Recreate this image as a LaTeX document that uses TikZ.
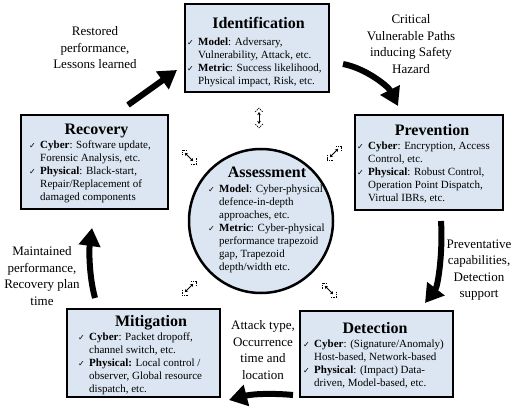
\documentclass[tikz,border=0pt]{standalone}
\usepackage{fontspec}
\setmainfont{Liberation Serif}
\newfontfamily\checkfont{DejaVu Sans}
\usetikzlibrary{arrows.meta}

\definecolor{boxfill}{RGB}{220,230,242}

% check mark bullet and hanging indent for the panel lists
\newcommand\ck{\makebox[11pt][l]{\checkfont\fontsize{8}{8}\selectfont ✓}}
\newcommand\ind{\hspace*{11pt}}
\newcommand\plist[1]{\parbox[t]{170pt}{\raggedright #1}}

\tikzset{
  panel/.style={draw=black, line width=2.5pt, fill=boxfill, inner sep=0pt},
  paneltitle/.style={font=\fontsize{16}{18}\selectfont\bfseries, inner sep=0pt, anchor=base},
  panelbody/.style={font=\fontsize{11}{13}\selectfont, inner sep=0pt, anchor=base west},
  flowlabel/.style={font=\fontsize{13}{16.5}\selectfont, align=center, inner sep=0pt},
  bigarrow/.style={line width=6pt, -{Triangle[length=18pt,width=21pt]}},
  resize/.pic={
    \draw[line width=0.75pt, {Stealth[length=3pt,width=3.6pt]}-{Stealth[length=3pt,width=3.6pt]}]
      (-4.2,-4.2) -- (4.2,4.2);
    \draw[line width=0.65pt, dash pattern=on 1.4pt off 0.9pt]
      (-7,-1.5) -- (-7,-7) -- (-1.5,-7)
      (7,1.5) -- (7,7) -- (1.5,7);
  }
}

\begin{document}
\begin{tikzpicture}[x=1pt, y=-1pt]
\useasboundingbox (0,0) rectangle (526,419);

% ---- central assessment disc ----
\node[panel, circle, minimum size=144pt] (assess) at (261,221) {};
\node[paneltitle] (assessT) at (267,178) {Assessment};
\node[panelbody] (assessB) at (208,193) {\plist{%
  \ck\textbf{Model}: Cyber-physical\\
  \ind defence-in-depth\\
  \ind approaches, etc.\\
  \ck\textbf{Metric}: Cyber-physical\\
  \ind performance trapezoid\\
  \ind gap, Trapezoid\\
  \ind depth/width etc.}};

% ---- identification ----
\node[panel, minimum width=144pt, minimum height=88pt] (ident) at (257,48) {};
\node[paneltitle] (identT) at (258.5,28.5) {Identification};
\node[panelbody] (identB) at (187,45.5) {\plist{%
  \ck\textbf{Model}: Adversary,\\
  \ind Vulnerability, Attack, etc.\\
  \ck\textbf{Metric}: Success likelihood,\\
  \ind Physical impact, Risk, etc.}};

% ---- prevention ----
\node[panel, minimum width=148pt, minimum height=95pt] (prev) at (429,162.5) {};
\node[paneltitle] (prevT) at (432,136) {Prevention};
\node[panelbody] (prevB) at (357,150) {\plist{%
  \ck\textbf{Cyber}: Encryption, Access\\
  \ind Control, etc.\\
  \ck\textbf{Physical}: Robust Control,\\
  \ind Operation Point Dispatch,\\
  \ind Virtual IBRs, etc.}};

% ---- detection ----
\node[panel, minimum width=153pt, minimum height=86pt] (detect) at (376.5,354) {};
\node[paneltitle] (detectT) at (375,333) {Detection};
\node[panelbody] (detectB) at (303,347) {\plist{%
  \ck\textbf{Cyber}: (Signature/Anomaly)\\
  \ind Host-based, Network-based\\
  \ck\textbf{Physical}: (Impact) Data-\\
  \ind driven, Model-based, etc.}};

% ---- mitigation ----
\node[panel, minimum width=153pt, minimum height=88pt] (mitig) at (143.5,353) {};
\node[paneltitle] (mitigT) at (151,326.5) {Mitigation};
\node[panelbody] (mitigB) at (78,340) {\plist{%
  \ck\textbf{Cyber}: Packet dropoff,\\
  \ind channel switch, etc.\\
  \ck\textbf{Physical:} Local control /\\
  \ind observer, Global resource\\
  \ind dispatch, etc.}};

% ---- recovery ----
\node[panel, minimum width=147pt, minimum height=94pt] (recov) at (94.5,162) {};
\node[paneltitle] (recovT) at (96.5,135) {Recovery};
\node[panelbody] (recovB) at (29,149) {\plist{%
  \ck\textbf{Cyber}: Software update,\\
  \ind Forensic Analysis, etc.\\
  \ck\textbf{Physical}: Black-start,\\
  \ind Repair/Replacement of\\
  \ind damaged components}};

% ---- cycle labels ----
\node[flowlabel] (lblRestore) at (95,48) {Restored\\performance,\\Lessons learned};
\node[flowlabel] (lblCritical) at (411,44) {Critical\\Vulnerable Paths\\inducing Safety\\Hazard};
\node[flowlabel] (lblPrevent) at (479,270) {Preventative\\capabilities,\\Detection\\support};
\node[flowlabel] (lblAttack) at (263,350) {Attack type,\\Occurrence\\time and\\location};
\node[flowlabel] (lblMaintain) at (42,276) {Maintained\\performance,\\Recovery plan\\time};

% ---- cycle arrows ----
\coordinate (recTail) at (128,105);
\coordinate (recTip) at (177,70);
\coordinate (idTail) at (343,64);
\coordinate (idTip) at (398,106);
\coordinate (prTail) at (441,221);
\coordinate (prTip) at (425,303);
\coordinate (deTail) at (293,395);
\coordinate (deTip) at (229,400);
\coordinate (miTail) at (95,298);
\coordinate (miTip) at (92,228);

\draw[bigarrow] (recTail) -- (recTip);
\draw[bigarrow] (idTail) .. controls (365,68) and (388,86) .. (idTip);
\draw[bigarrow] (prTail) .. controls (443,252) and (438,286) .. (prTip);
\draw[bigarrow] (deTail) .. controls (272,393) and (252,394) .. (deTip);
\draw[bigarrow] (miTail) .. controls (89,276) and (89,250) .. (miTip);

% ---- links between the disc and each stage ----
\coordinate (lnkId) at (259,118);
\coordinate (lnkRec) at (189,157);
\coordinate (lnkPrev) at (334,153);
\coordinate (lnkMit) at (189,288);
\coordinate (lnkDet) at (329,290);
\pic[rotate=-45] at (lnkId) {resize};
\pic at (lnkRec) {resize};
\pic[rotate=90] at (lnkPrev) {resize};
\pic[rotate=90] at (lnkMit) {resize};
\pic at (lnkDet) {resize};
\end{tikzpicture}
\end{document}
